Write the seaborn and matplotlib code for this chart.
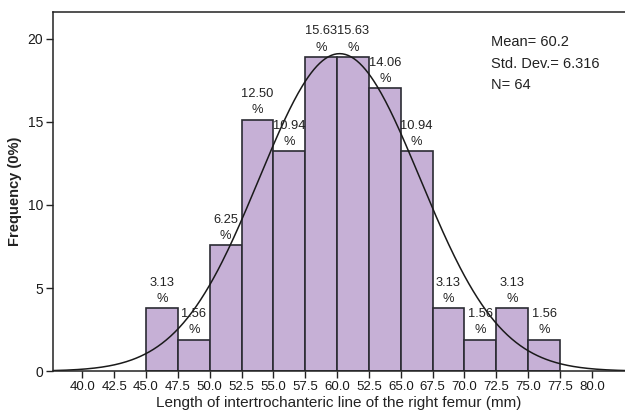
import numpy as np
import pandas as pd
import matplotlib
matplotlib.use("Agg")
import matplotlib.pyplot as plt
from matplotlib import font_manager
import seaborn as sns

# Class intervals (lower bounds, mm) and bar heights on the frequency axis
bin_lower = [45.0, 47.5, 50.0, 52.5, 55.0, 57.5, 60.0, 62.5, 65.0, 67.5, 70.0, 72.5, 75.0]
bar_height = [3.78, 1.89, 7.56, 15.12, 13.23, 18.9, 18.9, 17.01, 13.23, 3.78, 1.89, 3.78, 1.89]
percent_labels = ["3.13", "1.56", "6.25", "12.50", "10.94", "15.63", "15.63",
                  "14.06", "10.94", "3.13", "1.56", "3.13", "1.56"]
bin_width = 2.5

# x tick labels as printed (including the 52.5 at the 62.5 position)
x_ticks = [40.0, 42.5, 45.0, 47.5, 50.0, 52.5, 55.0, 57.5, 60.0, 62.5, 65.0, 67.5, 70.0, 72.5, 75.0, 77.5, 80.0]
x_tick_labels = ["40.0", "42.5", "45.0", "47.5", "50.0", "52.5", "55.0", "57.5",
                 "60.0", "52.5", "65.0", "67.5", "70.0", "72.5", "75.0", "77.5", "80.0"]
y_ticks = [0, 5, 10, 15, 20]

# Summary statistics and the peak height of the fitted normal curve
mean_val = 60.2
sd_val = 6.316
n_val = 64
curve_peak = 19.1

sns.set_theme(style="ticks")
available = {f.name for f in font_manager.fontManager.ttflist}
narrow = "Liberation Sans Narrow" if "Liberation Sans Narrow" in available else "Liberation Sans"
plt.rcParams["font.family"] = ["Liberation Sans", "DejaVu Sans"]

fig = plt.figure(figsize=(6.25, 4.17), dpi=100)
ax = fig.add_axes([0.0848, 0.110, 0.9152, 0.861])

df = pd.DataFrame({"centre": [b + bin_width / 2 for b in bin_lower], "height": bar_height})
edges = [bin_lower[0] + i * bin_width for i in range(len(bin_lower) + 1)]
sns.histplot(data=df, x="centre", weights="height", bins=edges, ax=ax,
             color="#c6b0d6", alpha=1.0, edgecolor="#2b2b33", linewidth=1.2)

# Normal curve with the reported mean and standard deviation
xs = np.linspace(37.7, 82.6, 400)
ys = curve_peak * np.exp(-0.5 * ((xs - mean_val) / sd_val) ** 2)
sns.lineplot(x=xs, y=ys, ax=ax, color="#1a1a1a", linewidth=1.1)

# Percentage labels above each bar
for b, h, lab in zip(bin_lower, bar_height, percent_labels):
    cx = b + bin_width / 2
    ax.annotate(lab + "\n%", xy=(cx, h), xytext=(0, 2.5), textcoords="offset points",
                ha="center", va="bottom", fontsize=9.3, family=[narrow, "DejaVu Sans"],
                color="#222222", linespacing=1.45)

ax.text(0.765, 0.935, f"Mean= {mean_val}\nStd. Dev.= {sd_val}\nN= {n_val}",
        transform=ax.transAxes, ha="left", va="top", fontsize=10.5,
        family=[narrow, "DejaVu Sans"], color="#222222", linespacing=1.65)

ax.set_xlim(37.7, 82.6)
ax.set_ylim(0, 21.6)
ax.set_xticks(x_ticks)
ax.set_xticklabels(x_tick_labels, family=[narrow, "DejaVu Sans"], fontsize=9.5, color="#1a1a1a")
ax.set_yticks(y_ticks)
ax.set_yticklabels([str(v) for v in y_ticks], family=[narrow, "DejaVu Sans"], fontsize=10, color="#1a1a1a")
ax.tick_params(axis="both", direction="out", length=5, width=1, color="#222222", pad=2)

ax.set_xlabel("Length of intertrochanteric line of the right femur (mm)",
              fontsize=11, color="#222222", labelpad=2)
ax.set_ylabel("Frequency (0%)", fontsize=10.5, fontweight="bold", color="#222222", labelpad=4)

for side in ["left", "bottom", "top"]:
    ax.spines[side].set_visible(True)
    ax.spines[side].set_color("#222222")
    ax.spines[side].set_linewidth(1.1)
ax.spines["right"].set_visible(False)

fig.savefig("out.png", dpi=100)
